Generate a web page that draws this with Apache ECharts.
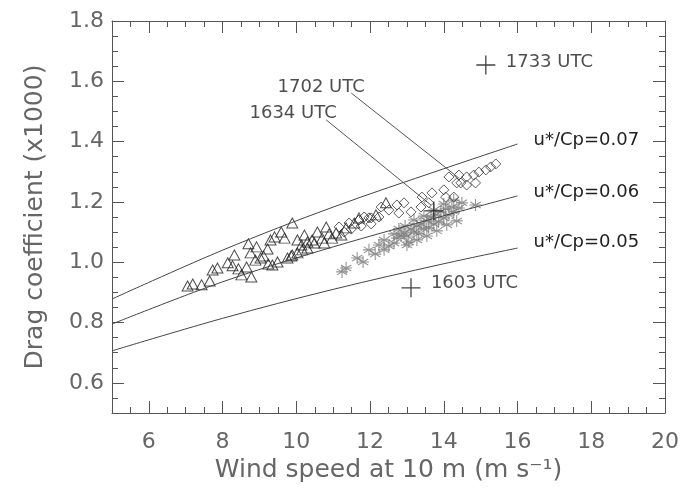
<!DOCTYPE html>
<html><head><meta charset="utf-8">
<script src="https://cdn.jsdelivr.net/npm/echarts@6/dist/echarts.min.js"></script>
<style>html,body{margin:0;padding:0;background:#fff}#c{width:682px;height:489px}</style>
</head><body><div id="c"></div>
<script>
const xMajorTicks = [6, 8, 10, 12, 14, 16, 18, 20];
const yMajorTicks = [0.6, 0.8, 1.0, 1.2, 1.4, 1.6, 1.8];
const xTitle = 'Wind speed at 10 m (m s\u207B\u00B9)';
const yTitle = 'Drag coefficient (x1000)';

const line07 = [[5, 0.878], [8, 1.04], [11, 1.183], [14, 1.31], [16, 1.392]];
const line06 = [[5, 0.795], [8, 0.935], [11, 1.051], [14, 1.154], [16, 1.22]];
const line05 = [[5, 0.706], [8, 0.814], [11, 0.91], [14, 0.995], [16, 1.047]];
const lineNames = ['u*/Cp=0.07', 'u*/Cp=0.06', 'u*/Cp=0.05'];

const triangles = [[7.05,0.921],[7.19,0.928],[7.43,0.925],[7.65,0.938],[7.73,0.974],[7.86,0.981],[8.14,0.998],[8.27,0.988],[8.32,1.024],[8.43,0.978],[8.51,0.958],[8.65,0.984],[8.78,0.951],[8.70,1.061],[8.92,1.051],[8.76,1.031],[8.89,1.007],[9.03,1.014],[9.11,1.021],[9.22,1.044],[9.30,1.074],[9.41,1.084],[9.24,0.994],[9.35,0.991],[9.49,1.001],[9.59,1.100],[9.68,1.080],[9.89,1.130],[9.76,1.014],[9.86,1.021],[10.03,1.074],[10.22,1.090],[10.14,1.057],[10.30,1.067],[10.43,1.074],[10.57,1.100],[10.81,1.117],[10.70,1.080],[10.89,1.094],[11.08,1.097],[10.30,1.047],[10.49,1.064],[9.89,1.024],[10.03,1.031],[10.16,1.041],[10.76,1.064],[10.97,1.080],[11.22,1.090],[11.35,1.114],[11.57,1.130],[11.70,1.147],[12.43,1.197],[12.16,1.157]];

const diamonds = [[11.16,1.117],[11.43,1.130],[11.70,1.140],[11.97,1.147],[12.24,1.150],[12.51,1.173],[12.73,1.190],[12.92,1.197],[12.78,1.163],[13.11,1.167],[13.38,1.183],[13.41,1.216],[13.59,1.197],[13.68,1.230],[14.00,1.240],[14.05,1.216],[14.27,1.216],[14.14,1.283],[14.41,1.289],[14.46,1.263],[14.62,1.256],[14.86,1.263],[14.81,1.289],[14.95,1.299],[15.14,1.306],[15.27,1.316],[15.41,1.326],[14.62,1.283],[14.35,1.263],[11.30,1.100],[11.49,1.110],[11.76,1.120],[12.03,1.127],[11.84,1.150],[12.03,1.147],[12.30,1.183]];

const stars = [[11.24,0.968],[11.35,0.981],[11.65,1.014],[11.81,1.001],[12.14,1.027],[12.38,1.041],[12.51,1.054],[12.65,1.064],[12.73,1.080],[12.84,1.087],[12.92,1.097],[13.00,1.087],[13.05,1.067],[13.11,1.110],[13.19,1.100],[13.27,1.120],[13.32,1.094],[13.38,1.127],[13.46,1.110],[13.54,1.137],[13.59,1.114],[13.65,1.150],[13.73,1.127],[13.78,1.157],[13.86,1.134],[13.92,1.167],[14.00,1.147],[14.05,1.177],[14.14,1.157],[14.22,1.183],[14.27,1.167],[14.41,1.180],[14.49,1.197],[14.86,1.190],[12.78,1.110],[12.95,1.120],[13.19,1.140],[13.46,1.153],[13.73,1.173],[14.00,1.193],[14.27,1.206],[13.27,1.074],[13.54,1.087],[13.81,1.104],[14.08,1.124],[14.35,1.137],[12.65,1.094],[12.38,1.074],[12.24,1.057],[11.97,1.041],[13.00,1.057]];

const plusPoints = [[15.14,1.654],[13.11,0.915],[13.73,1.17]];
const lead1702 = [[11.49,1.561],[14.41,1.279]];
const lead1634 = [[10.81,1.472],[13.65,1.19]];
const timeLabels = [[15.68,1.664,'1733 UTC'],[13.65,0.931,'1603 UTC'],[9.49,1.581,'1702 UTC'],[8.73,1.495,'1634 UTC']];

const AX = '#555';
const LBL = '#666';
const TXT = '#222';
const FONT = 'DejaVu Sans';

function majorX(pos, showLabels) {
  return {
    type: 'value', position: pos, min: 5, max: 20,
    axisLine: { show: true, onZero: false, lineStyle: { color: AX, width: 1 } },
    axisTick: { show: true, inside: true, length: 12, customValues: xMajorTicks, lineStyle: { color: AX } },
    axisLabel: { show: showLabels, customValues: xMajorTicks, margin: 18, color: LBL, fontSize: 22, fontFamily: FONT },
    splitLine: { show: false },
    name: showLabels ? xTitle : '', nameLocation: 'middle', nameGap: 42,
    nameTextStyle: { color: LBL, fontSize: 25, fontFamily: FONT }
  };
}
function minorX(pos) {
  return {
    type: 'value', position: pos, min: 5, max: 20, interval: 0.5,
    axisLine: { show: false }, axisLabel: { show: false }, splitLine: { show: false },
    axisTick: { show: true, inside: true, length: 6, lineStyle: { color: AX } }
  };
}
function majorY(pos, showLabels) {
  return {
    type: 'value', position: pos, min: 0.5, max: 1.8,
    axisLine: { show: true, onZero: false, lineStyle: { color: AX, width: 1 } },
    axisTick: { show: true, inside: true, length: 12, customValues: yMajorTicks, lineStyle: { color: AX } },
    axisLabel: { show: showLabels, customValues: yMajorTicks, margin: 8, color: LBL, fontSize: 22, fontFamily: FONT,
      formatter: v => v.toFixed(1) },
    splitLine: { show: false },
    name: showLabels ? yTitle : '', nameLocation: 'middle', nameGap: 64,
    nameTextStyle: { color: LBL, fontSize: 25, fontFamily: FONT }
  };
}
function minorY(pos) {
  return {
    type: 'value', position: pos, min: 0.5, max: 1.8, interval: 0.05,
    axisLine: { show: false }, axisLabel: { show: false }, splitLine: { show: false },
    axisTick: { show: true, inside: true, length: 6, lineStyle: { color: AX } }
  };
}

function curve(data, name, dy) {
  return {
    type: 'line', data: data, smooth: 0.35, symbol: 'none', silent: true,
    lineStyle: { color: '#444', width: 1 },
    endLabel: { show: true, formatter: name, distance: 16, offset: [0, dy],
      color: TXT, fontSize: 18, fontFamily: FONT }
  };
}
function leader(data) {
  return { type: 'line', data: data, symbol: 'none', silent: true, lineStyle: { color: '#555', width: 1 } };
}

const starPath = 'path://M0,-6L0,6M-5.2,-3L5.2,3M-5.2,3L5.2,-3M-6,0L6,0';
const plusPath = 'path://M-10,0L10,0M0,-10L0,10';

const chart = echarts.init(document.getElementById('c'));
chart.setOption({
  backgroundColor: '#fff',
  animation: false,
  grid: { left: 112, right: 14, top: 21, bottom: 76 },
  xAxis: [majorX('bottom', true), minorX('bottom'), majorX('top', false), minorX('top')],
  yAxis: [majorY('left', true), minorY('left'), majorY('right', false), minorY('right')],
  series: [
    curve(line07, lineNames[0], -4),
    curve(line06, lineNames[1], -4),
    curve(line05, lineNames[2], -6),
    leader(lead1702),
    leader(lead1634),
    { type: 'scatter', data: stars, symbol: starPath, symbolSize: 12,
      itemStyle: { color: 'none', borderColor: '#7a7a7a', borderWidth: 1.1 } },
    { type: 'scatter', data: triangles, symbol: 'triangle', symbolSize: [11, 10],
      itemStyle: { color: 'rgba(255,255,255,0)', borderColor: '#222', borderWidth: 1 } },
    { type: 'scatter', data: diamonds, symbol: 'diamond', symbolSize: 10,
      itemStyle: { color: 'rgba(255,255,255,0)', borderColor: '#333', borderWidth: 1 } },
    { type: 'scatter', data: plusPoints, symbol: plusPath, symbolSize: 19,
      itemStyle: { color: 'none', borderColor: '#111', borderWidth: 1.3 } },
    { type: 'scatter', data: timeLabels, symbolSize: 0, silent: true,
      label: { show: true, position: 'right', distance: 0, formatter: p => p.value[2],
        color: TXT, fontSize: 18, fontFamily: FONT } }
  ]
});
</script></body></html>
